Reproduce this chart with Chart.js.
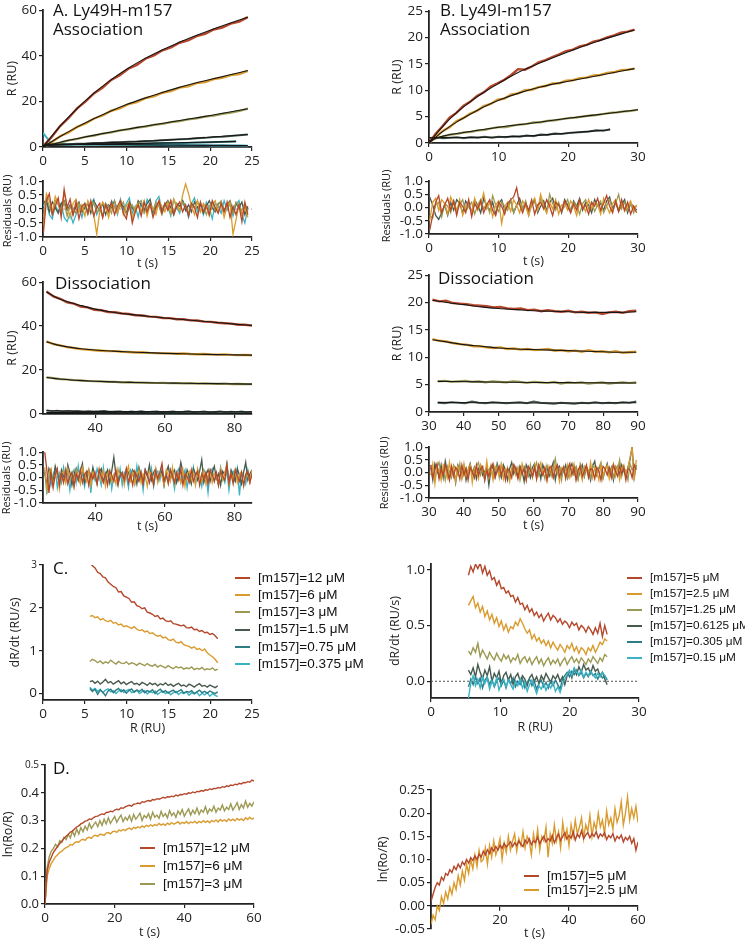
<!DOCTYPE html>
<html><head><meta charset="utf-8">
<script src="https://cdn.jsdelivr.net/npm/chart.js@4/dist/chart.umd.min.js"></script>
<style>
body{margin:0;background:#fff;width:745px;height:939px;overflow:hidden;position:relative;}
canvas{position:absolute;}
.ttl{position:absolute;font-family:"Open Sans",sans-serif;font-size:17px;line-height:17px;color:#111;white-space:nowrap;}
.lg{position:absolute;font-family:"Liberation Sans",Arial,sans-serif;color:#111;white-space:nowrap;}
.vt{position:absolute;font-family:"Open Sans",sans-serif;color:#111;white-space:nowrap;width:80px;height:14px;text-align:center;transform:rotate(-90deg);transform-origin:40px 7px;}
.sw{position:absolute;height:2px;}
</style></head><body>
<script>
// ---------- colours ----------
const RED='#B5472B', ORANGE='#DA9B2E', OLIVE='#9C9A52', DKGREEN='#475A4D', TEAL='#2E7D84', CYAN='#3AB3C6', FIT='#161616', INK='#222';

// ---------- tick values ----------
const ticksA_x=[0,5,10,15,20,25], ticksA_y=[0,20,40,60];
const ticksRes_y=[-1,-0.5,0,0.5,1];
const ticksAd_x=[40,60,80];
const ticksB_x=[0,10,20,30], ticksB_y=[0,5,10,15,20,25];
const ticksBd_x=[30,40,50,60,70,80,90];
const ticksC1_x=[0,5,10,15,20,25], ticksC1_y=[0,1,2,3];
const ticksC2_x=[0,10,20,30], ticksC2_y=[0,0.5,1];
const ticksD1_x=[0,20,40,60], ticksD1_y=[0,0.1,0.2,0.3,0.4,0.5];
const ticksD2_x=[0,20,40,60], ticksD2_y=[-0.05,0,0.05,0.1,0.15,0.2,0.25];

// ---------- A association (t 0..24.5) ----------
const aRed=[0.3,4.3,9.2,12.7,16.9,20.0,23.6,26.1,29.4,31.5,34.3,36.0,38.7,40.1,42.4,43.6,45.7,46.7,48.6,49.6,51.5,52.3,54.1,55.0,56.9];
const aOrange=[0.2,2.1,4.7,6.4,8.8,10.3,12.5,13.8,15.9,16.9,18.8,19.7,21.4,22.2,23.8,24.5,26.0,26.6,28.0,28.5,29.8,30.3,31.5,32.0,33.4];
const aOlive=[0.1,1.2,1.9,2.9,3.5,4.5,5.0,5.9,6.4,7.3,7.7,8.5,8.9,9.7,10.1,10.9,11.3,12.1,12.5,13.3,13.7,14.5,15.0,15.8,16.8];
const aDark=[0.8,0.85,1.15,1.2,1.45,1.5,1.75,1.8,2.05,2.1,2.35,2.4,2.65,2.75,2.95,3.15,3.35,3.55,3.85,4.0,4.35,4.5,4.85,5.1,5.5];
const aTeal=[0.9,0.85,0.95,1.0,1.1,1.05,1.2,1.25,1.3,1.4,1.4,1.5,1.55,1.6,1.7,1.75,1.8,1.9,2.0,2.1,2.2,2.3,2.45];
const aCyan=[6.2,1.4,1.3,1.2,1.25,1.1,1.15,1.0,1.05,0.95,1.0,0.9,0.95,0.85,0.9,0.8,0.85,0.8,0.75,0.8,0.7,0.75,0.65,0.7,0.6];
const aFitT=[0,2,4,6,8,10,12,14,16,18,20,22,24.5];
const aRedFit=[0,8.9,16.6,23.3,29.1,34.1,38.4,42.1,45.4,48.4,51.2,53.8,56.9];
const aOrangeFit=[0,4.5,8.6,12.3,15.6,18.6,21.2,23.6,25.8,27.8,29.6,31.3,33.5];
const aOliveFit=[0,2.0,3.6,5.1,6.5,7.8,9.0,10.2,11.4,12.6,13.8,15.1,16.8];
const aDarkFit=[0.6,1.0,1.3,1.6,1.9,2.2,2.5,2.9,3.3,3.8,4.3,4.8,5.5];
const aTealFitT=[0,4,8,12,16,20,23.1], aTealFit=[0.85,1.1,1.35,1.6,1.85,2.15,2.45];
const aCyanFitT=[0.3,12,24.5], aCyanFit=[1.25,0.92,0.62];

// ---------- A association residuals (t 0..24.5) ----------
const rACyan=[.1,.3,-.2,-.35,.15,-.1,.2,-.3,-.45,-.15,-.5,-.2,.1,-.3,.2,-.1,.15,.35,-.2,.05,-.25,.2,-.1,.3,.1,-.2,.35,-.05,.2,.4,-.15,.1,-.3,.25,-.1,.35,.15,-.2,.3,.45,-.05,.2,.1,-.25,.35,.05,-.15,.3,.1,-.3,.2,.4,-.1,.15,-.2,.25,.05,-.35,.2,.1,-.15,.3,-.05,.2,-.25,.15,.3,-.2,-.5,.05];
const rADark=[.2,.35,-.1,.25,.05,-.15,.2,.3,-.05,.15,-.2,.1,.25,-.1,.05,.2,-.15,.3,.1,-.05,.2,-.2,.15,.05,.3,-.1,.2,.1,-.15,.25,.05,-.1,.3,.15,-.05,.2,.35,-.1,.1,.25,-.05,.15,.3,.05,-.2,.2,.1,.3,-.05,.15,-.1,.25,.05,.2,-.15,.1,.3,.05,-.1,.2,.25,-.05,.15,.3,-.1,.2,.05,.25,-.2,.1];
const rAOlive=[-.3,.4,.1,-.2,.3,.15,-.1,.25,-.25,.1,.05,-.15,.2,-.05,.15,-.2,.1,.25,-.1,.05,-.3,.2,.1,-.15,.3,-.05,.1,.25,-.2,.05,.15,-.1,.2,.3,-.15,.05,.2,-.05,.25,.1,-.2,.15,.05,.3,-.1,.2,-.05,.25,.1,-.15,.2,.05,.3,-.1,.15,-.2,.1,.25,-.05,.15,.3,-.1,.05,.2,-.15,.25,.1,-.05,.2,-.1];
const rAOrange=[-.6,.55,.3,-.1,.45,.2,-.15,.6,.1,-.3,.2,.35,-.1,.15,-.25,.3,.05,-.2,-.9,-.1,.25,.1,-.3,.2,.05,-.15,.3,-.2,.1,.25,-.35,.05,.2,-.1,.3,-.25,.15,.05,-.2,.3,.1,-.1,.25,-.15,.35,.1,-.05,.5,.9,.55,.1,-.2,.3,-.1,.2,.05,-.25,.15,.3,-.1,.2,-.3,.1,.25,-.9,-.4,.15,-.2,.1,-.3];
const rARed=[-.85,.3,.55,-.2,.1,.4,-.3,.7,.05,.35,-.2,.25,-.35,.1,.2,-.15,.3,-.25,.05,.2,-.3,.15,-.1,.25,-.2,.1,.3,-.15,-.35,.2,-.5,-.1,.15,-.25,.25,-.1,.2,-.3,.05,.3,-.15,.2,-.05,.3,-.2,.1,.25,-.1,.15,-.25,.2,.05,-.3,.25,-.1,.15,-.2,.3,.05,-.15,.2,-.1,.25,-.3,.1,-.2,.15,-.45,.25,-.2];

// ---------- A dissociation (t 26..85) ----------
const adRed=[55.7,53.5,52.4,50.8,50.2,48.9,48.5,47.4,47.2,46.4,46.3,45.7,45.5,44.9,44.8,44.3,44.2,43.7,43.6,43.1,43.1,42.6,42.5,42.0,41.9,41.5,41.3,41.1,40.6,40.6,40.2];
const adOrange=[33.0,31.8,31.2,30.4,30.0,29.5,29.3,29.0,28.8,28.6,28.6,28.3,28.2,28.0,28.1,27.8,27.7,27.6,27.6,27.4,27.5,27.3,27.2,27.3,27.1,27.0,27.1,26.9,26.8,26.9,26.7];
const adOlive=[16.7,16.3,15.9,15.7,15.4,15.3,15.0,14.9,14.8,14.6,14.6,14.4,14.5,14.3,14.3,14.2,14.1,14.2,14.0,14.0,13.9,14.0,13.8,13.9,13.8,13.7,13.8,13.6,13.7,13.6,13.6];
const adDark=[1.8,1.3,1.6,1.1,1.5,1.2,1.4,0.9,1.3,1.0,1.2,1.5,0.9,1.1,1.3,0.8,1.2,1.0,1.4,0.9,1.1,1.3,0.8,1.0,1.2,0.9,1.1,1.4,0.8,1.0,1.2,0.7,1.0,1.3,0.8,1.1,0.9,1.2,0.8,1.0];
const adTeal=[0.9,0.6,0.8,0.5,0.7,0.4,0.6,0.8,0.5,0.6,0.4,0.7,0.5,0.6,0.3,0.5,0.7,0.4,0.6,0.5,0.3,0.6,0.4,0.5,0.7,0.3,0.5,0.4,0.6,0.3,0.5,0.4,0.6,0.3,0.4,0.5,0.3,0.5,0.4,0.3];
const adCyan=[0.4,0.2,0.3,0.1,0.3,0.2,0.0,0.2,0.3,0.1,0.2,0.0,0.2,0.1,0.3,0.1,0.2,0.0,0.1,0.2,0.1,0.0,0.2,0.1,0.2,0.0,0.1,0.2,0.0,0.1,0.2,0.1,0.0,0.1,0.2,0.0,0.1,0.1,0.0,0.1];
const adFitT=[26,28,30,33,36,40,45,50,55,60,65,70,75,80,85];
const adRedFit=[55.5,53.7,52.2,50.6,49.3,47.7,46.3,45.3,44.5,43.7,43.0,42.3,41.6,40.9,40.3];
const adOrangeFit=[32.8,31.9,31.1,30.3,29.7,29.1,28.6,28.2,27.9,27.6,27.4,27.2,27.0,26.9,26.8];
const adOliveFit=[16.6,16.2,15.9,15.5,15.2,14.9,14.6,14.4,14.2,14.1,14.0,13.9,13.8,13.7,13.6];
const adLowFitT=[26,50,85], adDarkFit=[1.45,1.1,1.0], adTealFit=[0.7,0.5,0.4], adCyanFit=[0.25,0.13,0.08];

// ---------- A dissociation residuals (t 25.5..85) ----------
const rAdCyan=[.3,-.65,.2,-.3,.1,.35,-.4,.15,-.2,.4,-.1,.25,-.5,.1,.3,-.2,.45,-.15,.2,-.35,.1,.3,-.6,.2,-.1,.35,.05,-.3,.4,-.2,.15,.3,-.45,.1,.25,-.15,.35,-.3,.2,.05,-.4,.3,.15,-.25,.45,-.1,.2,-.5,.3,.1,-.2,.35,-.35,.15,.25,-.1,.4,-.3,.2,-.15,.3,.05,-.45,.2,.35,-.2,.1,.3,-.4,.15,-.1,.4,-.25,.2,.05,-.35,.3,.15,-.6,.2,.35,-.15,.1,-.3,.4,.05,-.2,.3,-.5,.15,.25,-.1,.35,-.7,.2,.1,-.25,.3,-.15,.2];
const rAdDark=[.2,-.3,.35,.1,-.2,.45,.15,-.25,.3,.05,-.15,.5,.2,-.3,.1,.35,-.1,.25,.55,-.2,.15,.3,-.1,.4,.05,-.25,.2,.35,-.15,.1,.3,-.2,.25,.8,.1,-.3,.2,.05,-.15,.35,.2,-.1,.3,.15,-.25,.4,.1,-.2,.3,.05,.5,-.1,.2,.35,-.15,.1,.25,-.3,.2,.45,-.05,.15,.3,-.2,.1,.6,.2,-.15,.3,.05,-.25,.35,.15,-.1,.25,.7,-.2,.1,.3,-.15,.2,.45,-.05,.15,-.3,.25,.1,.55,-.2,.3,.05,-.15,.35,.1,-.25,.2,.6,-.1,.15,.3];
const rAdOrange=[.4,-.5,.2,.35,-.3,.1,.3,-.45,.15,.25,-.2,.35,-.1,.2,-.35,.3,.05,-.25,.4,.1,-.15,.3,-.3,.2,.05,-.2,.35,-.1,.25,-.35,.15,.3,-.15,.1,-.25,.35,.05,.2,-.3,.15,.45,-.1,.2,-.25,.1,.3,-.2,.15,.05,-.35,.25,.1,-.15,.35,-.2,.2,.05,-.3,.3,.1,-.15,.4,-.25,.2,.05,-.2,.3,-.35,.15,.25,-.1,.2,-.3,.35,.05,-.15,.25,-.25,.1,.3,-.2,.15,.05,-.3,.35,-.1,.2,.45,-.25,.15,-.05,.3,-.2,.1,.25,-.35,.15,.05,-.2,.3];
const rAdRed=[1.0,.3,-.6,.2,-.4,.1,.35,-.3,.15,-.2,.3,-.25,.05,.2,-.35,.15,-.1,.3,-.2,.1,.25,-.3,.15,-.05,.2,-.25,.3,.05,-.2,.15,-.3,.25,.1,-.15,.3,-.25,.05,.2,-.1,.35,-.2,.1,-.3,.25,.05,-.15,.2,-.25,.3,.1,-.2,.15,-.3,.25,-.05,.2,.55,-.15,.1,-.25,.3,.05,-.2,.2,-.1,.35,-.3,.15,.05,-.2,.3,-.15,.1,.25,-.3,.15,-.05,.2,-.25,.3,.1,-.15,.2,-.3,.25,.05,-.1,.5,-.2,.15,-.25,.3,.05,-.15,.2,-.3,.1,.25,-.2,.15];

// ---------- B association (t 0..30) ----------
const bRed=[0,1.8,3.2,4.8,5.7,7.0,7.8,8.9,9.6,10.7,11.3,12.0,12.9,14.0,13.9,14.5,15.3,15.7,16.3,16.8,17.4,17.7,18.3,18.6,19.2,19.5,20.0,20.4,20.9,21.1,21.5];
const bOrange=[0,1.1,2.3,3.0,4.1,4.7,5.6,6.1,7.0,7.4,8.2,8.4,9.2,9.4,10.0,10.1,10.6,10.8,11.3,11.3,11.8,11.9,12.3,12.4,12.8,12.9,13.3,13.4,13.8,13.9,14.1];
const bOlive=[0.3,0.9,1.2,1.6,1.7,2.0,2.1,2.4,2.5,2.8,3.0,3.0,3.3,3.5,3.6,3.9,3.9,4.2,4.3,4.5,4.7,4.8,5.0,5.2,5.3,5.5,5.7,5.8,6.0,6.1,6.3];
const bDark=[0.9,1.1,0.9,1.0,1.1,0.9,1.1,1.0,1.2,1.0,1.2,1.1,1.3,1.2,1.4,1.3,1.6,1.5,1.8,1.7,1.9,2.0,2.1,2.2,2.4,2.3,2.6];
const bFitT=[0,2,4,6,8,10,13,16,20,24,29.5];
const bRedFit=[0,3.2,5.8,7.9,9.7,11.3,13.5,15.2,17.3,19.2,21.4];
const bOrangeFit=[0,2.2,4.0,5.5,6.9,8.1,9.5,10.6,11.7,12.7,14.1];
const bOliveFitT=[0,2,5,10,15,20,25,30], bOliveFit=[0.4,1.3,2.0,3.0,3.8,4.7,5.5,6.3];
const bDarkFitT=[0,5,10,15,20,26], bDarkFit=[1.0,1.05,1.15,1.4,1.9,2.5];

// ---------- B association residuals (t 0..30) ----------
const rBDark=[.4,.1,-.3,-.45,-.2,.1,-.3,.2,-.1,.3,.15,-.2,.25,.05,-.15,.3,.1,-.2,.35,.05,-.1,.2,-.25,.15,.3,-.1,.05,.25,-.2,.1,.35,-.05,.2,-.15,.1,.3,-.2,.05,.25,-.1,.2,.35,-.05,.15,-.2,.3,.1,-.15,.25,.05,.35,-.1,.2,.1,-.2,.3,.05,.15,-.1,.25,.4,-.05,.2,-.15,.1,.3,-.2,.15,.05,-.1];
const rBOlive=[-.3,-.4,.1,.2,-.35,.15,.05,-.2,.25,-.1,.1,.3,-.15,.05,.2,-.25,.1,.3,-.05,.15,-.2,.45,.1,-.15,.2,.05,-.1,.3,-.2,.1,.15,-.05,.25,-.3,.1,.2,-.1,.35,.05,-.2,.5,.15,-.1,.2,-.15,.05,.3,-.1,.2,.1,-.25,.15,.3,-.05,.2,-.15,.1,.25,-.2,.05,.3,-.1,.15,.5,-.05,.2,-.1,.15,-.2,.1];
const rBOrange=[-.5,.2,.35,-.1,.3,.15,-.25,.4,.1,-.15,.3,-.3,.05,.2,-.2,.35,-.1,.15,.55,-.05,.2,-.35,.1,.25,-.6,.05,.2,-.15,.3,.1,-.2,.25,.05,-.3,.15,.35,-.1,.5,.1,-.2,.2,-.05,.3,-.25,.1,.15,-.1,.25,.05,-.3,.2,.1,-.15,.3,-.05,.2,.1,-.25,.35,.05,-.2,.15,.3,-.1,.2,-.15,.05,.25,-.1,.1];
const rBRed=[-.85,-.3,.2,.45,-.2,.1,.35,-.1,.25,-.3,.2,.05,-.2,.3,-.35,.15,-.05,.25,-.2,.1,.3,-.1,-.3,.2,.05,-.25,.15,.3,.4,.75,.1,-.2,.15,-.1,.3,-.25,.1,.2,-.05,.3,.05,-.3,.2,.1,-.15,.25,.05,-.2,.15,-.1,.3,-.05,.1,-.25,.2,.05,.35,-.1,.15,.45,.05,-.2,.25,-.15,.3,-.1,.2,-.25,.05,-.2];

// ---------- B dissociation (t 31..89.5) ----------
const bdRed=[20.5,20.2,20.3,19.9,19.8,19.7,19.5,19.4,19.3,19.1,19.2,18.9,18.8,18.9,18.6,18.7,18.4,18.6,18.4,18.3,18.5,18.2,18.3,18.1,18.2,17.9,18.2,18.3,18.1,18.4,18.5];
const bdOrange=[13.3,13.0,12.9,12.6,12.4,12.3,12.0,12.0,11.8,11.7,11.8,11.5,11.6,11.4,11.5,11.3,11.4,11.5,11.2,11.3,11.1,11.2,11.0,11.3,11.0,11.1,10.9,11.1,10.8,10.9,11.0];
const bdOlive=[5.6,5.7,5.5,5.6,5.7,5.5,5.6,5.4,5.6,5.5,5.4,5.6,5.5,5.3,5.5,5.4,5.3,5.5,5.2,5.4,5.3,5.4,5.2,5.3,5.4,5.2,5.3,5.4,5.3,5.4];
const bdDark=[1.7,1.6,1.8,1.7,1.6,1.9,1.7,1.6,1.8,1.7,1.6,1.7,1.8,1.6,1.9,1.7,1.6,1.5,1.7,1.6,1.5,1.7,1.6,1.8,1.6,1.7,1.6,1.8,1.7,1.9];
const bdFitT=[31,35,40,45,50,55,60,65,70,75,80,85,89.5];
const bdRedFit=[20.4,20.0,19.6,19.2,18.9,18.7,18.5,18.4,18.3,18.2,18.2,18.2,18.3];
const bdOrangeFit=[13.2,12.8,12.3,12.0,11.7,11.5,11.4,11.3,11.2,11.1,11.0,10.9,10.9];
const bdLowFitT=[32.5,45,60,75,89.5], bdOliveFit=[5.6,5.5,5.4,5.35,5.3], bdDarkFit=[1.75,1.7,1.65,1.65,1.7];

// ---------- B dissociation residuals (t 30.5..89.5) ----------
const rBdDark=[.2,-.3,.35,.1,-.15,.3,-.2,.45,.05,-.25,.2,.1,-.4,.3,.15,-.1,.25,-.3,.1,.35,-.05,.2,-.25,.15,.3,-.1,.05,.2,-.5,.1,.25,-.15,.35,.05,-.2,.3,.1,-.3,.15,.4,-.05,.2,-.15,.25,.05,-.35,.3,.1,-.2,.2,.35,-.1,.15,-.25,.3,.05,.2,-.15,.1,.4,-.3,.15,.25,-.1,.05,.3,-.2,.15,.35,-.05,.2,-.25,.1,.3,-.15,.2,.05,-.3,.25,.45,-.1,.15,.3,-.2,.1,.35,-.05,.2,-.3,.15,.25,-.1,.3,.05,-.15,.2,.5,1.0,-.2,.3];
const rBdOlive=[.3,.1,-.25,.2,.4,-.1,.15,-.3,.25,.05,-.2,.3,.15,-.1,.35,-.25,.1,.2,-.15,.3,.05,-.2,.25,.4,-.1,.15,-.3,.2,.05,.3,-.15,.1,.25,-.2,.35,.1,-.1,.2,-.25,.15,.3,-.05,.2,-.3,.1,.25,.05,-.15,.3,-.2,.15,.4,-.1,.2,.05,-.25,.3,.1,-.15,.2,.55,-.05,.15,-.3,.25,.1,-.2,.3,.05,-.1,.2,-.25,.35,.1,-.15,.25,.05,-.2,.3,.15,-.1,.2,.4,-.25,.1,.3,-.05,.15,-.2,.25,.1,.5,-.15,.2,.05,-.3,.35,.1,.3,.2];
const rBdOrange=[-.1,.35,-.45,.2,.1,-.3,.3,.15,-.2,.4,-.1,.2,-.35,.25,.05,-.2,.35,-.15,.1,.3,-.4,.2,.05,-.25,.3,.1,-.15,.45,-.2,.15,-.3,.25,.1,-.1,.3,-.25,.15,.05,-.35,.2,.3,-.1,.15,-.2,.35,.05,-.3,.2,.1,-.15,.3,-.25,.2,.4,-.1,.15,-.3,.25,.05,-.2,.3,.1,-.35,.2,.15,-.15,.3,-.2,.1,.35,-.25,.15,.05,-.3,.25,.1,-.15,.4,-.2,.2,.05,-.3,.3,-.1,.15,.25,-.25,.1,.35,-.15,.2,-.3,.15,.3,-.1,.2,.6,1.0,-.3,.5];
const rBdRed=[.3,-.2,.1,.35,-.25,.15,-.1,.3,.05,-.3,.25,-.15,.2,.1,-.25,.3,-.1,.15,-.3,.2,.05,-.2,.3,-.1,.15,.25,-.3,.1,-.15,.2,.35,-.2,.05,.25,-.1,.2,-.3,.15,.05,-.2,.3,.1,-.25,.2,-.05,.15,-.3,.25,.1,-.15,.2,-.25,.3,.05,-.1,.2,-.3,.15,.25,-.2,.1,.3,-.15,.05,.2,-.25,.15,.35,-.1,.2,-.3,.1,.25,-.15,.05,.3,-.2,.15,.1,-.25,.2,.05,-.3,.25,.15,-.1,.2,-.2,.3,.05,-.15,.25,-.05,.2,-.3,.15,.1,-.2,.3,.1];

// ---------- C left: dR/dt vs R (R 5.6..20.9) ----------
const c1Labels=['[m157]=12 \u03bcM','[m157]=6 \u03bcM','[m157]=3 \u03bcM','[m157]=1.5 \u03bcM','[m157]=0.75 \u03bcM','[m157]=0.375 \u03bcM'];
const c1Red=[3.05,2.98,2.93,2.83,2.8,2.72,2.7,2.6,2.55,2.5,2.47,2.37,2.38,2.28,2.25,2.22,2.13,2.14,2.05,2.03,1.98,2.0,1.9,1.88,1.85,1.8,1.82,1.74,1.76,1.7,1.68,1.7,1.63,1.62,1.6,1.58,1.6,1.54,1.53,1.55,1.49,1.5,1.45,1.47,1.42,1.43,1.38,1.4,1.35,1.28];
const c1Orange=[1.8,1.82,1.77,1.79,1.72,1.75,1.7,1.68,1.71,1.64,1.66,1.6,1.62,1.56,1.58,1.55,1.52,1.56,1.5,1.47,1.49,1.44,1.46,1.4,1.42,1.37,1.34,1.36,1.3,1.32,1.26,1.24,1.27,1.2,1.18,1.21,1.14,1.12,1.1,1.06,1.09,1.03,1.05,1.0,1.04,0.95,0.9,0.86,0.8,0.72];
const c1Olive=[0.75,0.8,0.77,0.72,0.76,0.7,0.74,0.71,0.78,0.73,0.69,0.75,0.71,0.7,0.74,0.68,0.72,0.7,0.66,0.71,0.68,0.65,0.7,0.66,0.64,0.68,0.62,0.66,0.63,0.6,0.65,0.61,0.58,0.63,0.6,0.62,0.57,0.6,0.58,0.62,0.56,0.59,0.57,0.61,0.55,0.58,0.56,0.6,0.54,0.57];
const c1Dark=[0.28,0.3,0.24,0.29,0.22,0.27,0.33,0.25,0.28,0.22,0.26,0.3,0.23,0.27,0.21,0.25,0.28,0.22,0.24,0.2,0.26,0.23,0.19,0.25,0.21,0.24,0.18,0.23,0.2,0.25,0.19,0.22,0.17,0.21,0.24,0.18,0.2,0.16,0.22,0.19,0.15,0.2,0.23,0.17,0.19,0.15,0.2,0.17,0.14,0.18];
const c1Teal=[0.12,0.05,0.1,-0.02,0.08,0.03,-0.05,0.06,0.1,0.02,0.08,0.12,0.04,0.09,0.01,0.07,0.11,0.03,0.08,0.05,0.1,0.02,0.07,0.04,0.09,0.0,0.06,0.1,0.03,0.07,0.01,0.05,0.08,0.02,0.06,0.09,0.01,0.05,0.03,0.07,0.0,0.04,0.08,0.02,0.05,0.01,0.06,0.03,0.0,0.04];
const c1Cyan=[0.15,0.08,0.12,0.05,0.1,0.02,0.08,0.11,0.04,0.07,0.0,0.06,0.09,0.03,0.07,0.1,0.02,0.05,0.08,0.0,0.04,0.07,-0.01,0.05,0.02,0.06,-0.02,0.03,0.06,0.0,0.04,-0.03,0.02,0.05,-0.02,0.03,0.0,0.04,-0.04,0.02,-0.01,0.03,-0.05,0.01,-0.03,0.02,-0.06,0.0,-0.04,-0.07];

// ---------- C right: dR/dt vs R (R 5.4..25.4) ----------
const c2Labels=['[m157]=5 \u03bcM','[m157]=2.5 \u03bcM','[m157]=1.25 \u03bcM','[m157]=0.6125 \u03bcM','[m157]=0.305 \u03bcM','[m157]=0.15 \u03bcM'];
const c2Red=[0.95,1.03,0.98,1.05,1.01,1.06,0.97,1.03,0.95,0.99,0.91,0.93,0.86,0.9,0.83,0.84,0.79,0.81,0.76,0.77,0.71,0.75,0.69,0.7,0.64,0.68,0.62,0.65,0.59,0.62,0.57,0.6,0.54,0.58,0.61,0.55,0.59,0.57,0.53,0.56,0.51,0.54,0.52,0.48,0.53,0.5,0.52,0.46,0.5,0.48,0.44,0.49,0.46,0.42,0.48,0.43,0.52,0.4,0.5,0.42];
const c2Orange=[0.68,0.72,0.76,0.66,0.7,0.62,0.67,0.58,0.63,0.55,0.6,0.52,0.57,0.49,0.54,0.46,0.51,0.44,0.49,0.47,0.53,0.5,0.56,0.52,0.47,0.43,0.46,0.38,0.42,0.36,0.39,0.34,0.37,0.32,0.36,0.3,0.35,0.31,0.28,0.33,0.3,0.26,0.32,0.29,0.34,0.27,0.31,0.25,0.3,0.28,0.24,0.3,0.27,0.32,0.26,0.3,0.35,0.33,0.38,0.36];
const c2Olive=[0.27,0.24,0.3,0.26,0.34,0.22,0.28,0.24,0.2,0.26,0.22,0.19,0.25,0.21,0.18,0.24,0.2,0.23,0.17,0.21,0.19,0.24,0.16,0.2,0.22,0.17,0.21,0.15,0.19,0.22,0.16,0.2,0.14,0.18,0.21,0.15,0.19,0.16,0.2,0.14,0.18,0.21,0.15,0.19,0.22,0.17,0.2,0.16,0.21,0.18,0.15,0.2,0.17,0.22,0.19,0.16,0.21,0.18,0.24,0.22];
const c2Dark=[0.1,0.06,0.12,0.04,0.15,0.08,0.02,0.1,0.05,0.13,0.0,0.07,0.03,0.09,-0.02,0.05,0.08,0.01,0.06,-0.03,0.04,0.07,0.0,0.05,0.02,-0.04,0.03,0.06,0.0,0.04,-0.02,0.05,0.01,0.07,0.03,-0.01,0.05,0.02,0.06,0.0,0.04,-0.03,0.05,0.09,0.03,0.11,0.06,0.13,0.08,0.15,0.1,0.12,0.07,0.14,0.09,0.11,0.05,0.08,0.02,-0.03];
const c2Teal=[-0.05,0.02,-0.03,0.04,-0.02,0.03,-0.06,0.01,0.04,-0.03,0.02,-0.05,0.0,0.03,-0.04,0.01,-0.06,0.02,-0.02,0.03,-0.05,0.0,-0.03,0.02,-0.06,-0.01,0.02,-0.04,0.0,-0.07,-0.02,0.01,-0.05,-0.01,-0.06,0.0,-0.04,0.01,-0.03,-0.07,0.02,0.05,0.08,0.04,0.09,0.06,0.1,0.05,0.08,0.03,0.07,0.04,0.09,0.05,0.07,0.02,0.06,0.03,0.05,0.01];
const c2Cyan=[-0.15,-0.02,0.05,-0.04,0.02,-0.06,0.04,-0.02,0.03,-0.07,0.0,-0.04,0.03,-0.08,-0.02,0.02,-0.05,0.01,-0.03,-0.07,0.0,-0.04,0.02,-0.06,-0.01,-0.09,-0.03,0.01,-0.05,-0.11,-0.04,-0.07,-0.02,-0.08,-0.03,-0.06,-0.01,-0.09,-0.05,-0.1,-0.03,0.02,0.06,0.1,0.05,0.12,0.08,0.06,0.1,0.04,0.08,0.05,0.09,0.06,0.03,0.07,0.04,0.08,0.05,0.02];
const c2ZeroX=[0,30], c2ZeroY=[0,0];

// ---------- D left: ln(Ro/R) vs t (0..60) ----------
const d1Labels=['[m157]=12 \u03bcM','[m157]=6 \u03bcM','[m157]=3 \u03bcM'];
const d1Red=[0,.12,.15,.168,.186,.197,.207,.218,.226,.236,.244,.25,.259,.262,.27,.277,.281,.288,.292,.298,.3,.306,.304,.311,.315,.316,.321,.324,.322,.329,.33,.334,.332,.338,.341,.339,.346,.344,.349,.353,.355,.352,.359,.36,.363,.361,.368,.366,.37,.372,.37,.376,.374,.379,.377,.38,.384,.381,.386,.385,.388,.386,.392,.389,.394,.393,.397,.395,.4,.398,.403,.4,.405,.404,.408,.406,.411,.409,.414,.412,.416,.415,.419,.417,.422,.42,.425,.423,.428,.426,.431,.429,.434,.432,.437,.436,.44,.438,.446,.442];
const d1Orange=[0,.1,.128,.146,.158,.17,.177,.186,.19,.198,.203,.206,.214,.212,.22,.224,.222,.23,.233,.229,.238,.24,.236,.245,.247,.243,.251,.25,.247,.255,.257,.252,.26,.262,.258,.266,.263,.268,.264,.27,.273,.268,.276,.272,.278,.274,.281,.276,.283,.279,.285,.28,.286,.282,.29,.284,.288,.283,.291,.286,.293,.287,.291,.296,.288,.294,.29,.297,.289,.295,.292,.298,.29,.297,.293,.3,.294,.299,.292,.301,.296,.302,.295,.304,.298,.303,.297,.306,.3,.305,.299,.308,.302,.306,.3,.31,.304,.312,.305,.31];
const d1Olive=[0,.13,.17,.19,.2,.215,.205,.228,.222,.24,.232,.25,.238,.262,.245,.27,.252,.275,.26,.28,.266,.29,.272,.285,.295,.278,.3,.283,.305,.288,.31,.29,.303,.315,.294,.308,.32,.296,.312,.302,.318,.298,.322,.305,.315,.327,.3,.318,.31,.325,.305,.33,.312,.32,.308,.333,.315,.325,.31,.336,.318,.328,.312,.335,.322,.34,.316,.33,.342,.32,.337,.325,.345,.322,.338,.33,.35,.326,.342,.334,.352,.33,.345,.338,.356,.335,.348,.34,.36,.338,.35,.365,.34,.358,.345,.37,.348,.362,.352,.368];

// ---------- D right: ln(Ro/R) vs t (0..60) ----------
const d2Labels=['[m157]=5 \u03bcM','[m157]=2.5 \u03bcM'];
const d2Red=[.01,.025,.04,.05,.045,.062,.055,.07,.066,.078,.072,.085,.078,.09,.082,.095,.088,.1,.092,.104,.098,.108,.1,.112,.105,.118,.11,.121,.113,.125,.118,.128,.12,.131,.124,.135,.127,.132,.138,.128,.136,.13,.14,.133,.128,.142,.135,.145,.132,.14,.137,.148,.134,.143,.15,.138,.145,.14,.152,.136,.147,.155,.141,.15,.158,.144,.152,.146,.16,.142,.155,.148,.162,.145,.153,.158,.147,.156,.15,.16,.146,.155,.15,.158,.143,.152,.147,.156,.14,.15,.145,.153,.138,.148,.142,.15,.135,.145,.12,.138];
const d2Orange=[-.04,-.02,-.03,.0,-.01,.02,.005,.03,.015,.04,.025,.05,.035,.065,.045,.075,.055,.09,.07,.1,.08,.11,.085,.12,.095,.1,.125,.09,.13,.105,.14,.11,.125,.145,.1,.135,.115,.15,.12,.14,.155,.118,.145,.13,.16,.125,.15,.14,.11,.155,.13,.165,.12,.15,.14,.17,.105,.155,.135,.175,.14,.16,.125,.18,.145,.165,.13,.175,.15,.185,.155,.17,.19,.145,.175,.16,.195,.15,.18,.165,.2,.17,.185,.155,.205,.175,.19,.165,.21,.18,.195,.225,.175,.2,.235,.185,.21,.19,.215,.18];

// ---------- helpers ----------
function lin(a,b,n){const o=[];for(let i=0;i<n;i++)o.push(n===1?a:a+(b-a)*i/(n-1));return o;}
function pts(xs,ys){return ys.map((y,i)=>({x:xs[i],y:y}));}
function ser(xs,ys,color,w,extra){return Object.assign({data:pts(xs,ys),borderColor:color,backgroundColor:color,borderWidth:w,pointRadius:0,fill:false,tension:0},extra||{});}
function rng(t0,t1,ys,color,w){return ser(lin(t0,t1,ys.length),ys,color,w);}
function fit(xs,ys,w){return ser(xs,ys,FIT,w||1.1,{cubicInterpolationMode:'monotone'});}
const fmt0=v=>String(v), fmt1=v=>v.toFixed(1), fmt2=v=>v.toFixed(2);
const TICKFONT={family:'Open Sans',size:13.5};

function scaleCfg(s,isX,fix){
  const showTitle=!!s.title && !s.html;
  return {
    type:'linear',min:s.min,max:s.max,position:s.pos||(isX?'bottom':'left'),
    afterBuildTicks:sc=>{sc.ticks=s.ticks.map(v=>({value:v}));},
    afterFit:sc=>{if(isX)sc.height=fix;else sc.width=fix;},
    grid:{display:true,drawOnChartArea:false,drawTicks:true,tickLength:4,color:INK,lineWidth:1.2},
    border:{display:true,color:INK,width:1.8},
    ticks:{color:INK,padding:s.pad!=null?s.pad:2,autoSkip:false,maxRotation:0,
      font:s.font||TICKFONT,callback:v=>(s.fmt||fmt0)(v)},
    title:{display:showTitle,text:s.title||'',color:INK,padding:0,font:{family:'Open Sans',size:s.tsize||12.5}}
  };
}
// rotated HTML axis title (used where the label is longer than its short axis)
function vtext(str,cx,cy,size){const d=document.createElement('div');d.className='vt';d.textContent=str;d.style.fontSize=size+'px';d.style.lineHeight='14px';d.style.left=Math.round(cx-40)+'px';d.style.top=Math.round(cy-7)+'px';document.body.appendChild(d);}

function panel(o){
  const [l,t,r,b]=o.area;
  const TP=o.tp!=null?o.tp:10, RP=o.rp!=null?o.rp:14, PB=o.pb||0;
  const ytSize=o.y.tsize||12.5;
  const left=Math.round(o.y.titleX-ytSize*1.2/2);
  const LP=l-left;
  let bottom, BP;
  if(o.xObj){ bottom=b+PB; BP=o.xh; }
  else if(o.x.titleY!=null){ bottom=Math.round(o.x.titleY+(o.x.tsize||12.5)*1.2/2); BP=bottom-b; }
  else { bottom=b+(o.bp||24); BP=bottom-b; }
  const top=t-TP, W=r-l+LP+RP, H=bottom-top;
  const c=document.createElement('canvas');
  c.width=W;c.height=H;c.style.left=left+'px';c.style.top=top+'px';c.style.width=W+'px';c.style.height=H+'px';
  document.body.appendChild(c);
  new Chart(c,{type:'line',data:{datasets:o.ds.slice().reverse()},
    options:{responsive:false,animation:false,devicePixelRatio:1,events:[],
      layout:{padding:{top:TP,right:RP,left:0,bottom:PB}},
      plugins:{legend:{display:false},tooltip:{enabled:false}},
      scales:{x:scaleCfg(o.x,true,BP),y:scaleCfg(o.y,false,LP)}}});
  if(o.y.html) vtext(o.y.title,o.y.titleX,(t+b)/2+(o.y.dy||0),ytSize);
}
function text(str,x,y,cls){const d=document.createElement('div');d.className=cls;d.textContent=str;d.style.left=x+'px';d.style.top=y+'px';document.body.appendChild(d);}
function legend(labels,colors,lx,lw,tx,y0,step,size){
  labels.forEach((lab,i)=>{
    const yc=y0+i*step;
    const s=document.createElement('div');s.className='sw';s.style.left=lx+'px';s.style.width=lw+'px';s.style.top=(yc-1)+'px';s.style.background=colors[i];document.body.appendChild(s);
    const d=document.createElement('div');d.className='lg';d.textContent=lab;d.style.fontSize=size+'px';d.style.lineHeight=size+'px';d.style.left=tx+'px';d.style.top=(yc-size/2-0.5)+'px';document.body.appendChild(d);
  });
}

// ---------- A association ----------
panel({area:[43,10,252,147],
  x:{min:0,max:25,ticks:ticksA_x},
  y:{min:0,max:60,ticks:ticksA_y,title:'R (RU)',titleX:12},
  ds:[rng(0,24.5,aCyan,CYAN,2),rng(0,23.1,aTeal,TEAL,2),rng(0,24.5,aDark,DKGREEN,2),
      rng(0,24.5,aOlive,OLIVE,2.2),rng(0,24.5,aOrange,ORANGE,2.4),rng(0,24.5,aRed,RED,2.4),
      fit(aCyanFitT,aCyanFit),fit(aTealFitT,aTealFit),fit(aFitT,aDarkFit),fit(aFitT,aOliveFit),fit(aFitT,aOrangeFit),fit(aFitT,aRedFit)]});
panel({area:[43,181,252,237],
  x:{min:0,max:25,ticks:ticksA_x,title:'t (s)',titleY:263},
  y:{min:-1,max:1,ticks:ticksRes_y,fmt:fmt1,title:'Residuals (RU)',titleX:7,tsize:11,html:true,dy:2},
  ds:[ser([0,25.5],[0,0],'#999',1,{borderDash:[2,2]}),
      rng(0.05,24.5,rACyan,CYAN,1.3),rng(0.05,24.5,rADark,DKGREEN,1.3),rng(0.05,24.5,rAOlive,OLIVE,1.3),
      rng(0.05,24.5,rAOrange,ORANGE,1.3),rng(0.05,24.5,rARed,RED,1.3)]});
// ---------- A dissociation ----------
panel({area:[43,282,252,414],
  x:{min:25,max:85,ticks:ticksAd_x},
  y:{min:0,max:60,ticks:ticksA_y,title:'R (RU)',titleX:12},
  ds:[rng(26,85,adCyan,CYAN,1.3),rng(26,85,adTeal,TEAL,1.3),rng(26,85,adDark,DKGREEN,1.5),
      rng(26,85,adOlive,OLIVE,2.2),rng(26,85,adOrange,ORANGE,2.4),rng(26,85,adRed,RED,2.4),
      fit(adLowFitT,adCyanFit),fit(adLowFitT,adTealFit),fit(adLowFitT,adDarkFit),
      fit(adFitT,adOliveFit),fit(adFitT,adOrangeFit),fit(adFitT,adRedFit)]});
panel({area:[43,452,252,503],
  x:{min:25,max:85,ticks:ticksAd_x,title:'t (s)',titleY:526},
  y:{min:-1,max:1,ticks:ticksRes_y,fmt:fmt1,title:'Residuals (RU)',titleX:6,tsize:11,html:true},
  ds:[rng(25.5,85,rAdCyan,CYAN,1.3),rng(25.5,85,rAdDark,DKGREEN,1.3),rng(25.5,85,rAdOrange,ORANGE,1.3),rng(25.5,85,rAdRed,RED,1.3)]});

// ---------- B association ----------
panel({area:[429,11,638,143],
  x:{min:0,max:30,ticks:ticksB_x},
  y:{min:0,max:25,ticks:ticksB_y,title:'R (RU)',titleX:397},
  ds:[rng(0,26,bDark,DKGREEN,2),rng(0,30,bOlive,OLIVE,2.2),rng(0,29.5,bOrange,ORANGE,2.4),rng(0,29.5,bRed,RED,2.4),
      fit(bDarkFitT,bDarkFit),fit(bOliveFitT,bOliveFit),fit(bFitT,bOrangeFit),fit(bFitT,bRedFit)]});
panel({area:[429,181,638,234],
  x:{min:0,max:30,ticks:ticksB_x,title:'t (s)',titleY:261},
  y:{min:-1,max:1,ticks:ticksRes_y,fmt:fmt1,title:'Residuals (RU)',titleX:386,tsize:11,html:true,dy:-2},
  ds:[rng(0.1,29.8,rBDark,DKGREEN,1.3),rng(0.1,29.8,rBOlive,OLIVE,1.3),rng(0.1,29.8,rBOrange,ORANGE,1.3),rng(0.1,29.8,rBRed,RED,1.3)]});
// ---------- B dissociation ----------
panel({area:[429,275,638,412],
  x:{min:30,max:90,ticks:ticksBd_x},
  y:{min:0,max:25,ticks:ticksB_y,title:'R (RU)',titleX:397},
  ds:[rng(32.5,89.5,bdDark,DKGREEN,2),rng(32.5,89.5,bdOlive,OLIVE,2.2),rng(31,89.5,bdOrange,ORANGE,2.4),rng(31,89.5,bdRed,RED,2.4),
      fit(bdLowFitT,bdDarkFit),fit(bdLowFitT,bdOliveFit),fit(bdFitT,bdOrangeFit),fit(bdFitT,bdRedFit)]});
panel({area:[429,447,638,498],
  x:{min:30,max:90,ticks:ticksBd_x,title:'t (s)',titleY:525},
  y:{min:-1,max:1,ticks:ticksRes_y,fmt:fmt1,title:'Residuals (RU)',titleX:384,tsize:11,html:true},
  ds:[rng(30.5,89.5,rBdDark,DKGREEN,1.3),rng(30.5,89.5,rBdOlive,OLIVE,1.3),rng(30.5,89.5,rBdOrange,ORANGE,1.3),rng(30.5,89.5,rBdRed,RED,1.3)]});

// ---------- C ----------
const smallOne=(big,small,val)=>(ctx=>({family:'Open Sans',size:(ctx.tick&&Math.abs(ctx.tick.value-val)<1e-9)?small:big}));
panel({area:[43,565,252,700],
  x:{min:0,max:25,ticks:ticksC1_x,title:'R (RU)',titleY:728},
  y:{min:-0.15,max:3,ticks:ticksC1_y,title:'dR/dt (RU/s)',titleX:15,font:smallOne(13.5,10,3)},
  ds:[rng(5.6,20.9,c1Cyan,CYAN,1.4),rng(5.6,20.9,c1Teal,TEAL,1.4),rng(5.6,20.9,c1Dark,DKGREEN,1.4),
      rng(5.6,20.9,c1Olive,OLIVE,1.4),rng(5.6,20.9,c1Orange,ORANGE,1.4),rng(5.6,20.9,c1Red,RED,1.4)]});
panel({area:[431,564,639,698],
  x:{min:0,max:30,ticks:ticksC2_x,title:'R (RU)',titleY:727},
  y:{min:-0.15,max:1.05,ticks:ticksC2_y,fmt:fmt1,title:'dR/dt (RU/s)',titleX:395},
  ds:[ser(c2ZeroX,c2ZeroY,'#555',1,{borderDash:[2,2]}),
      rng(5.4,25.4,c2Olive,OLIVE,1.4),rng(5.4,25.4,c2Dark,DKGREEN,1.4),rng(5.4,25.4,c2Teal,TEAL,1.4),rng(5.4,25.4,c2Cyan,CYAN,1.4),
      rng(5.4,25.4,c2Orange,ORANGE,1.4),rng(5.4,25.4,c2Red,RED,1.4)]});

// ---------- D ----------
panel({area:[45,765,254,904],
  x:{min:0,max:60,ticks:ticksD1_x,title:'t (s)',titleY:932},
  y:{min:0,max:0.5,ticks:ticksD1_y,fmt:fmt1,title:'ln(Ro/R)',titleX:8,font:smallOne(13,10,0.5)},
  ds:[rng(0,60,d1Olive,OLIVE,1.4),rng(0,60,d1Orange,ORANGE,1.4),rng(0,60,d1Red,RED,1.4)]});
panel({area:[431,790,638,929],pb:10,xObj:true,xh:35,
  x:{min:0,max:60,ticks:ticksD2_x,pos:{y:0},fmt:v=>v===0?'':String(v),title:'t (s)'},
  y:{min:-0.05,max:0.25,ticks:ticksD2_y,fmt:fmt2,title:'ln(Ro/R)',titleX:383,font:{family:'Open Sans',size:13}},
  ds:[rng(0,60,d2Orange,ORANGE,1.4),rng(0,60,d2Red,RED,1.4)]});

// ---------- titles & legends ----------
text('A. Ly49H-m157',53,0.5,'ttl');
text('Association',53,20,'ttl');
text('B. Ly49I-m157',440,0.5,'ttl');
text('Association',440,20,'ttl');
text('Dissociation',55,274,'ttl');
text('Dissociation',438,268.5,'ttl');
text('C.',53,558.5,'ttl');
text('D.',53,758.5,'ttl');
const c1Colors=[RED,ORANGE,OLIVE,DKGREEN,TEAL,CYAN];
legend(c1Labels,c1Colors,235,15,258,578,17.2,13.5);
legend(c2Labels,c1Colors,627,15,650,578,16,11.8);
legend(d1Labels,[RED,ORANGE,OLIVE],140,15,163,848,18,13.5);
legend(d2Labels,[RED,ORANGE],524,15,547,876,14,13.5);
</script>
</body></html>
